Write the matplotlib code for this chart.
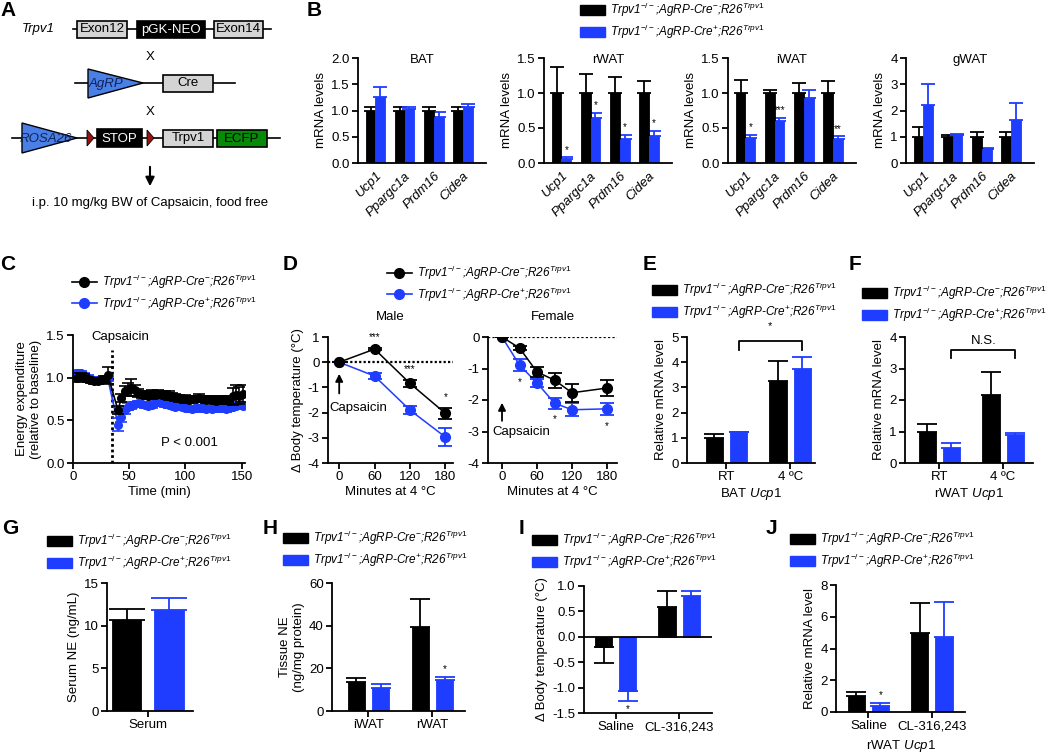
import numpy as np
import matplotlib
matplotlib.use('Agg')
import matplotlib.pyplot as plt
from matplotlib.patches import Rectangle, Polygon, Patch
from matplotlib.lines import Line2D

plt.rcParams['font.family'] = ['Liberation Sans', 'DejaVu Sans']
plt.rcParams['font.size'] = 9
plt.rcParams['mathtext.fontset'] = 'custom'
plt.rcParams['mathtext.rm'] = 'Liberation Sans'
plt.rcParams['mathtext.it'] = 'Liberation Sans:italic'
plt.rcParams['mathtext.default'] = 'it'
plt.rcParams['axes.unicode_minus'] = False
plt.rcParams['axes.linewidth'] = 1.3

BLACK = '#000000'
BLUE = '#1f3dff'

# ---------------- data ----------------
genes = ['Ucp1', 'Ppargc1a', 'Prdm16', 'Cidea']
bat_ctrl = [1.0, 1.0, 1.0, 1.0]
bat_ctrl_err = [0.06, 0.06, 0.06, 0.07]
bat_ko = [1.25, 1.03, 0.88, 1.07]
bat_ko_err = [0.19, 0.03, 0.10, 0.06]
bat_stars = ['', '', '', '']

rwat_ctrl = [1.0, 1.0, 1.0, 1.0]
rwat_ctrl_err = [0.37, 0.27, 0.23, 0.17]
rwat_ko = [0.06, 0.64, 0.35, 0.38]
rwat_ko_err = [0.02, 0.07, 0.05, 0.08]
rwat_stars = ['*', '*', '*', '*']

iwat_ctrl = [1.0, 1.0, 1.0, 1.0]
iwat_ctrl_err = [0.19, 0.05, 0.14, 0.17]
iwat_ko = [0.36, 0.60, 0.93, 0.35]
iwat_ko_err = [0.04, 0.05, 0.12, 0.03]
iwat_stars = ['*', '***', '', '**']

gwat_ctrl = [1.0, 1.0, 1.0, 1.0]
gwat_ctrl_err = [0.37, 0.07, 0.20, 0.18]
gwat_ko = [2.2, 1.05, 0.53, 1.62]
gwat_ko_err = [0.80, 0.05, 0.04, 0.65]
gwat_stars = ['', '', '', '']

# C: energy expenditure time course
ee_time = [4, 7, 10, 13, 16, 19, 22, 25, 28, 31,
           40, 43, 46, 49, 52, 55, 58, 61, 64, 67, 70, 73, 76, 79, 82, 85, 88, 91, 94,
           97, 100, 103, 106, 109, 112, 115, 118, 121, 124, 127, 130, 133, 136, 139,
           142, 145, 148, 151]
ee_ctrl = [1.00, 1.01, 1.00, 0.98, 0.97, 0.96, 0.96, 0.97, 0.98, 1.03,
           0.62, 0.76, 0.84, 0.86, 0.88, 0.85, 0.82, 0.80, 0.80, 0.79, 0.80, 0.80, 0.81, 0.80,
           0.80, 0.79, 0.78, 0.77, 0.76, 0.75, 0.75, 0.74, 0.75, 0.75, 0.76, 0.75, 0.74, 0.75,
           0.74, 0.73, 0.74, 0.75, 0.74, 0.73, 0.78, 0.80, 0.79, 0.81]
ee_ctrl_err = [0.05, 0.04, 0.04, 0.03, 0.03, 0.03, 0.03, 0.03, 0.04, 0.10,
               0.05, 0.05, 0.06, 0.08, 0.10, 0.06, 0.05, 0.04, 0.04, 0.04, 0.05, 0.04, 0.04, 0.04,
               0.04, 0.05, 0.04, 0.04, 0.04, 0.04, 0.05, 0.04, 0.04, 0.04, 0.05, 0.04, 0.04, 0.04,
               0.04, 0.04, 0.05, 0.04, 0.04, 0.04, 0.10, 0.11, 0.10, 0.10]
ee_ko = [1.05, 1.05, 1.03, 1.00, 0.98, 0.97, 0.97, 0.98, 0.98, 0.99,
         0.45, 0.54, 0.62, 0.66, 0.67, 0.69, 0.70, 0.69, 0.68, 0.67, 0.68, 0.70, 0.71, 0.70,
         0.69, 0.68, 0.67, 0.66, 0.67, 0.66, 0.65, 0.64, 0.63, 0.64, 0.65, 0.64, 0.63, 0.64,
         0.63, 0.64, 0.65, 0.64, 0.63, 0.64, 0.66, 0.67, 0.68, 0.67]
ee_ko_err = [0.04, 0.03, 0.03, 0.03, 0.03, 0.03, 0.03, 0.03, 0.03, 0.03,
             0.08, 0.06, 0.05, 0.04, 0.04, 0.03, 0.03, 0.03, 0.03, 0.03, 0.03, 0.03, 0.03, 0.03,
             0.03, 0.03, 0.03, 0.03, 0.03, 0.03, 0.03, 0.03, 0.03, 0.03, 0.03, 0.03, 0.03, 0.03,
             0.03, 0.03, 0.03, 0.03, 0.03, 0.03, 0.03, 0.03, 0.03, 0.03]

# D: body temperature at 4 C
male_time = [0, 60, 120, 180]
male_ctrl = [0, 0.52, -0.84, -2.03]
male_ctrl_err = [0, 0.05, 0.15, 0.21]
male_ko = [0, -0.55, -1.9, -2.97]
male_ko_err = [0, 0.13, 0.15, 0.37]
male_stars = ['', '***', '***', '*']

female_time = [0, 30, 60, 90, 120, 180]
female_ctrl = [0, -0.35, -1.11, -1.37, -1.77, -1.62]
female_ctrl_err = [0, 0.05, 0.15, 0.24, 0.28, 0.24]
female_ko = [0, -0.89, -1.46, -2.1, -2.31, -2.28]
female_ko_err = [0, 0.2, 0.12, 0.17, 0.2, 0.2]
female_stars = ['', '*', '', '*', '', '*']

# E / F: cold exposure Ucp1
temps = ['RT', '4 ºC']
bat_ucp1_ctrl = [1.0, 3.25]
bat_ucp1_ctrl_err = [0.15, 0.8]
bat_ucp1_ko = [1.22, 3.72]
bat_ucp1_ko_err = [0.03, 0.5]
rwat_ucp1_ctrl = [1.0, 2.15]
rwat_ucp1_ctrl_err = [0.23, 0.75]
rwat_ucp1_ko = [0.47, 0.88]
rwat_ucp1_ko_err = [0.17, 0.06]

# G / H: norepinephrine
serum = ['Serum']
serum_ctrl = [10.7]
serum_ctrl_err = [1.2]
serum_ko = [11.8]
serum_ko_err = [1.5]
tissues = ['iWAT', 'rWAT']
tissue_ctrl = [13.8, 39.5]
tissue_ctrl_err = [1.5, 13.0]
tissue_ko = [10.8, 14.3]
tissue_ko_err = [2.0, 1.7]
tissue_stars = ['', '*']

# I / J: CL-316,243
treatments = ['Saline', 'CL-316,243']
cl_temp_ctrl = [-0.2, 0.58]
cl_temp_ctrl_err = [0.31, 0.33]
cl_temp_ko = [-1.07, 0.8]
cl_temp_ko_err = [0.2, 0.1]
cl_temp_stars = ['*', '']
cl_ucp1_ctrl = [1.0, 5.0]
cl_ucp1_ctrl_err = [0.25, 1.85]
cl_ucp1_ko = [0.4, 4.75]
cl_ucp1_ko_err = [0.15, 2.2]
cl_ucp1_stars = ['*', '']

label_ctrl = 'Trpv1$^{-/-}$;AgRP-Cre$^{-}$;R26$^{Trpv1}$'
label_ko = 'Trpv1$^{-/-}$;AgRP-Cre$^{+}$;R26$^{Trpv1}$'

# ---------------- figure ----------------
W, H = 1050, 755
fig = plt.figure(figsize=(W / 100, H / 100), dpi=100)


def add_ax(x0, y0, x1, y1):
    return fig.add_axes([x0 / W, 1 - y1 / H, (x1 - x0) / W, (y1 - y0) / H])


def style(ax):
    ax.spines['top'].set_visible(False)
    ax.spines['right'].set_visible(False)
    ax.tick_params(direction='out', length=4, width=1.3, labelsize=9.5, pad=2)


def bar_pair(ax, ctrl, ctrl_err, ko, ko_err, width, offset, capsize, stars=None):
    x = np.arange(len(ctrl))
    for vals, errs, col, sgn in ((ctrl, ctrl_err, BLACK, -1), (ko, ko_err, BLUE, 1)):
        vals = np.asarray(vals, float)
        errs = np.asarray(errs, float)
        lower = np.where(vals < 0, errs, 0)
        upper = np.where(vals >= 0, errs, 0)
        ax.bar(x + sgn * offset, vals, width, color=col, edgecolor=col, lw=0.6, zorder=2)
        ax.errorbar(x + sgn * offset, vals, yerr=[lower, upper], fmt='none', ecolor=col,
                    elinewidth=1.3, capsize=capsize, capthick=1.3, zorder=1)
    if stars:
        ko = np.asarray(ko, float)
        for i, s in enumerate(stars):
            if not s:
                continue
            if ko[i] >= 0:
                ax.annotate(s, (x[i] + offset, ko[i] + ko_err[i]), xytext=(0, 2),
                            textcoords='offset points', ha='center', va='bottom', fontsize=7)
            else:
                ax.annotate(s, (x[i] + offset, ko[i] - ko_err[i]), xytext=(0, -2),
                            textcoords='offset points', ha='center', va='top', fontsize=7)
    return x


def legend_at(handles, x_px, y_px):
    fig.legend(handles, [label_ctrl, label_ko], loc='upper left',
               bbox_to_anchor=(x_px / W, 1 - y_px / H), frameon=False,
               borderpad=0, borderaxespad=0, handlelength=2.1, handleheight=0.9,
               handletextpad=0.45, labelspacing=0.3, prop={'style': 'italic', 'size': 8.5})


bar_handles = [Patch(fc=BLACK, ec=BLACK), Patch(fc=BLUE, ec=BLUE)]
line_handles = [Line2D([], [], color=BLACK, marker='o', ms=7, lw=1.2),
                Line2D([], [], color=BLUE, marker='o', ms=7, lw=1.2)]


def letter(s, x, y):
    fig.text(x / W, 1 - y / H, s, fontsize=15, weight='bold', ha='center', va='center')


# ---------------- A: schematic ----------------
axA = add_ax(0, 0, 290, 240)
axA.set_xlim(0, 290)
axA.set_ylim(240, 0)
axA.axis('off')
GRAY = '#d4d4d4'
TRI = '#4a80e6'


def gbox(x0, x1, yc, label, fc, tc='black', h=17):
    axA.add_patch(Rectangle((x0, yc - h / 2), x1 - x0, h, fc=fc, ec='black', lw=1.2, zorder=3))
    axA.text((x0 + x1) / 2, yc + 0.5, label, color=tc, ha='center', va='center', fontsize=9.5, zorder=4)


axA.text(22, 29, 'Trpv1', style='italic', ha='left', va='center', fontsize=9.5)
axA.plot([73, 271], [29, 29], color='black', lw=1.2, zorder=1)
gbox(77, 127, 29, 'Exon12', GRAY)
gbox(137, 205, 29, 'pGK-NEO', 'black', 'white')
gbox(214, 263, 29, 'Exon14', GRAY)
axA.text(150, 57, 'X', ha='center', va='center', fontsize=9.5)

axA.plot([75, 235], [83, 83], color='black', lw=1.2, zorder=1)
axA.add_patch(Polygon([(88, 69), (88, 98), (143, 83)], fc=TRI, ec='black', lw=1.0, zorder=3))
axA.text(106, 84, 'AgRP', style='italic', ha='center', va='center', fontsize=9.5, color='#10205a', zorder=4)
gbox(163, 213, 83, 'Cre', GRAY)
axA.text(150, 112, 'X', ha='center', va='center', fontsize=9.5)

axA.plot([12, 280], [138, 138], color='black', lw=1.2, zorder=1)
axA.add_patch(Polygon([(22, 123), (22, 153), (77, 138)], fc=TRI, ec='black', lw=1.0, zorder=3))
axA.text(46, 139, 'ROSA26', style='italic', ha='center', va='center', fontsize=9.5, color='#10205a', zorder=4)
for xr in (87, 147):
    axA.add_patch(Polygon([(xr, 130), (xr, 146), (xr + 7, 138)], fc='#9b1111', ec='black', lw=0.6, zorder=3))
gbox(97, 142, 138, 'STOP', 'black', 'white', h=18)
gbox(163, 213, 138, 'Trpv1', GRAY)
gbox(217, 267, 138, 'ECFP', '#078a07')
axA.annotate('', xy=(150, 189), xytext=(150, 164),
             arrowprops=dict(arrowstyle='-|>', color='black', lw=1.5, mutation_scale=13))
axA.text(150, 203, 'i.p. 10 mg/kg BW of Capsaicin, food free', ha='center', va='center', fontsize=9.5)

# ---------------- B: mRNA panels ----------------
b_panels = [('BAT', bat_ctrl, bat_ctrl_err, bat_ko, bat_ko_err, bat_stars, 2.0, 0.5, 358),
            ('rWAT', rwat_ctrl, rwat_ctrl_err, rwat_ko, rwat_ko_err, rwat_stars, 1.5, 0.5, 544),
            ('iWAT', iwat_ctrl, iwat_ctrl_err, iwat_ko, iwat_ko_err, iwat_stars, 1.5, 0.5, 728),
            ('gWAT', gwat_ctrl, gwat_ctrl_err, gwat_ko, gwat_ko_err, gwat_stars, 4, 1, 906)]
for name, c, ce, k, ke, st, ymax, step, x0 in b_panels:
    ax = add_ax(x0, 58, x0 + 128, 163)
    style(ax)
    x = bar_pair(ax, c, ce, k, ke, 0.34, 0.17, 5, st)
    ax.set_ylim(0, ymax)
    ax.set_yticks(np.arange(0, ymax + 0.01, step))
    if step < 1:
        ax.set_yticklabels([f'{v:.1f}' for v in np.arange(0, ymax + 0.01, step)])
    ax.set_xlim(-0.6, 3.8)
    ax.set_xticks(x)
    ax.set_xticklabels(genes, rotation=45, ha='right', rotation_mode='anchor', style='italic')
    ax.tick_params(axis='x', length=0, pad=5)
    ax.set_ylabel('mRNA levels', fontsize=9.5, labelpad=3)
    ax.text(0.5, 0.98, name, transform=ax.transAxes, ha='center', va='center', fontsize=9.5)
legend_at(bar_handles, 580, 1)

# ---------------- C: energy expenditure ----------------
axC = add_ax(73, 335, 245, 463)
style(axC)
axC.errorbar(ee_time, ee_ko, yerr=ee_ko_err, color=BLUE, marker='o', ms=5.5, lw=1.2,
             elinewidth=1.2, capsize=4, capthick=1.2, zorder=2)
axC.errorbar(ee_time, ee_ctrl, yerr=ee_ctrl_err, color=BLACK, marker='o', ms=5.5, lw=1.2,
             elinewidth=1.2, capsize=4, capthick=1.2, zorder=3)
axC.plot([35, 35], [0, 1.32], color='black', lw=2, linestyle=(0, (1, 1)), zorder=1)
axC.text(42, 1.48, 'Capsaicin', ha='center', va='center', fontsize=9.5)
axC.text(104, 0.23, 'P < 0.001', ha='center', va='center', fontsize=9.5)
axC.set_xlim(0, 153)
axC.set_ylim(0, 1.5)
axC.set_xticks([0, 50, 100, 150])
axC.set_yticks([0, 0.5, 1.0, 1.5])
axC.set_yticklabels(['0.0', '0.5', '1.0', '1.5'])
axC.set_xlabel('Time (min)', fontsize=9.5, labelpad=2)
axC.set_ylabel('Energy expenditure\n(relative to baseline)', fontsize=9.5, labelpad=3)
legend_at(line_handles, 72, 273)

# ---------------- D: body temperature ----------------
axDm = add_ax(328, 337, 453, 463)
axDf = add_ax(488, 337, 617, 463)
for ax, t, c, ce, k, ke in ((axDm, male_time, male_ctrl, male_ctrl_err, male_ko, male_ko_err),
                            (axDf, female_time, female_ctrl, female_ctrl_err, female_ko, female_ko_err)):
    style(ax)
    ax.axhline(0, color='black', lw=1.6, linestyle=(0, (1, 1)), zorder=0)
    ax.errorbar(t, k, yerr=ke, color=BLUE, marker='o', ms=7, lw=1.1, elinewidth=1.3,
                capsize=5, capthick=1.3, zorder=2)
    ax.errorbar(t, c, yerr=ce, color=BLACK, marker='o', ms=7, lw=1.1, elinewidth=1.3,
                capsize=5, capthick=1.3, zorder=3)
    ax.set_xticks([0, 60, 120, 180])
    ax.set_xlabel('Minutes at 4 °C', fontsize=9.5, labelpad=2)

axDm.set_xlim(-19, 193)
axDm.set_ylim(-4, 1)
axDm.set_yticks([1, 0, -1, -2, -3, -4])
axDm.set_ylabel('Δ Body temperature (°C)', fontsize=9.5, labelpad=3)
axDm.set_title('Male', fontsize=9.5, pad=12)
for t, c, ce, s in zip(male_time, male_ctrl, male_ctrl_err, male_stars):
    if s:
        axDm.annotate(s, (t, c + ce), xytext=(0, 4), textcoords='offset points',
                      ha='center', va='bottom', fontsize=7)
axDm.annotate('', xy=(0, -0.35), xytext=(0, -1.35),
              arrowprops=dict(arrowstyle='-|>', color='black', lw=1.3, mutation_scale=11))
axDm.text(-16, -1.8, 'Capsaicin', ha='left', va='center', fontsize=9.5)

axDf.set_xlim(-24, 197)
axDf.set_ylim(-4, 0)
axDf.set_yticks([0, -1, -2, -3, -4])
axDf.set_title('Female', fontsize=9.5, pad=12)
for t, k, ke, s in zip(female_time, female_ko, female_ko_err, female_stars):
    if s:
        axDf.annotate(s, (t, k - ke), xytext=(0, -4), textcoords='offset points',
                      ha='center', va='top', fontsize=7)
axDf.annotate('', xy=(0, -2.0), xytext=(0, -2.75),
              arrowprops=dict(arrowstyle='-|>', color='black', lw=1.3, mutation_scale=11))
axDf.text(-16, -3.0, 'Capsaicin', ha='left', va='center', fontsize=9.5)
legend_at(line_handles, 387, 264)

# ---------------- E / F: cold-induced Ucp1 ----------------
axE = add_ax(687, 337, 815, 463)
axF = add_ax(905, 337, 1033, 463)
for ax, c, ce, k, ke, ymax, xl, tis in (
        (axE, bat_ucp1_ctrl, bat_ucp1_ctrl_err, bat_ucp1_ko, bat_ucp1_ko_err, 5, (-0.62, 1.39), 'BAT'),
        (axF, rwat_ucp1_ctrl, rwat_ucp1_ctrl_err, rwat_ucp1_ko, rwat_ucp1_ko_err, 4, (-0.54, 1.47), 'rWAT')):
    style(ax)
    x = bar_pair(ax, c, ce, k, ke, 0.27, 0.19, 7)
    ax.set_ylim(0, ymax)
    ax.set_xlim(*xl)
    ax.set_yticks(range(0, ymax + 1))
    ax.set_xticks(x)
    ax.set_xticklabels(temps)
    ax.set_ylabel('Relative mRNA level', fontsize=9.5, labelpad=3)
    ax.set_xlabel(tis + ' $Ucp1$', fontsize=9.5, labelpad=2)

axE.plot([0.19, 0.19, 1.19, 1.19], [4.5, 4.84, 4.84, 4.5], color='black', lw=1.3, clip_on=False)
axE.text(0.69, 5.45, '*', ha='center', va='center', fontsize=8)
axF.plot([0.19, 0.19, 1.19, 1.19], [3.33, 3.59, 3.59, 3.33], color='black', lw=1.3, clip_on=False)
axF.text(0.69, 3.87, 'N.S.', ha='center', va='center', fontsize=9.5)
legend_at(bar_handles, 652, 281)
legend_at(bar_handles, 862, 284)

# ---------------- G: serum NE ----------------
axG = add_ax(107, 583, 193, 711)
style(axG)
x = bar_pair(axG, serum_ctrl, serum_ctrl_err, serum_ko, serum_ko_err, 0.7, 0.5, 13)
axG.set_xlim(-0.96, 1.06)
axG.set_ylim(0, 15)
axG.set_yticks([0, 5, 10, 15])
axG.set_xticks(x)
axG.set_xticklabels(serum)
axG.set_ylabel('Serum NE (ng/mL)', fontsize=9.5, labelpad=3)
legend_at(bar_handles, 47, 532)

# ---------------- H: tissue NE ----------------
axH = add_ax(332, 583, 465, 711)
style(axH)
x = bar_pair(axH, tissue_ctrl, tissue_ctrl_err, tissue_ko, tissue_ko_err, 0.27, 0.19, 7, tissue_stars)
axH.set_xlim(-0.57, 1.51)
axH.set_ylim(0, 60)
axH.set_yticks([0, 20, 40, 60])
axH.set_xticks(x)
axH.set_xticklabels(tissues)
axH.set_ylabel('Tissue NE\n(ng/mg protein)', fontsize=9.5, labelpad=3)
legend_at(bar_handles, 283, 529)

# ---------------- I: body temperature with CL ----------------
axI = add_ax(584, 586, 712, 713)
style(axI)
x = bar_pair(axI, cl_temp_ctrl, cl_temp_ctrl_err, cl_temp_ko, cl_temp_ko_err, 0.27, 0.19, 7, cl_temp_stars)
axI.axhline(0, color='black', lw=1.3, zorder=3)
axI.set_xlim(-0.5, 1.52)
axI.set_ylim(-1.5, 1.0)
axI.set_yticks([1.0, 0.5, 0.0, -0.5, -1.0, -1.5])
axI.set_yticklabels(['1.0', '0.5', '0.0', '-0.5', '-1.0', '-1.5'])
axI.set_xticks(x)
axI.set_xticklabels(treatments)
axI.set_ylabel('Δ Body temperature (°C)', fontsize=9.5, labelpad=3)
legend_at(bar_handles, 532, 531)

# ---------------- J: rWAT Ucp1 with CL ----------------
axJ = add_ax(836, 585, 965, 712)
style(axJ)
x = bar_pair(axJ, cl_ucp1_ctrl, cl_ucp1_ctrl_err, cl_ucp1_ko, cl_ucp1_ko_err, 0.27, 0.19, 7, cl_ucp1_stars)
axJ.set_xlim(-0.51, 1.52)
axJ.set_ylim(0, 8)
axJ.set_yticks([0, 2, 4, 6, 8])
axJ.set_xticks(x)
axJ.set_xticklabels(treatments)
axJ.set_ylabel('Relative mRNA level', fontsize=9.5, labelpad=3)
axJ.set_xlabel('rWAT $Ucp1$', fontsize=9.5, labelpad=4)
legend_at(bar_handles, 790, 530)

# ---------------- panel letters ----------------
for s, x, y in (('A', 8, 10), ('B', 314, 10), ('C', 8, 265), ('D', 290, 265), ('E', 650, 265),
                ('F', 855, 265), ('G', 10, 528), ('H', 270, 528), ('I', 521, 528), ('J', 771, 528)):
    letter(s, x, y)

fig.savefig('out.png', dpi=100)
